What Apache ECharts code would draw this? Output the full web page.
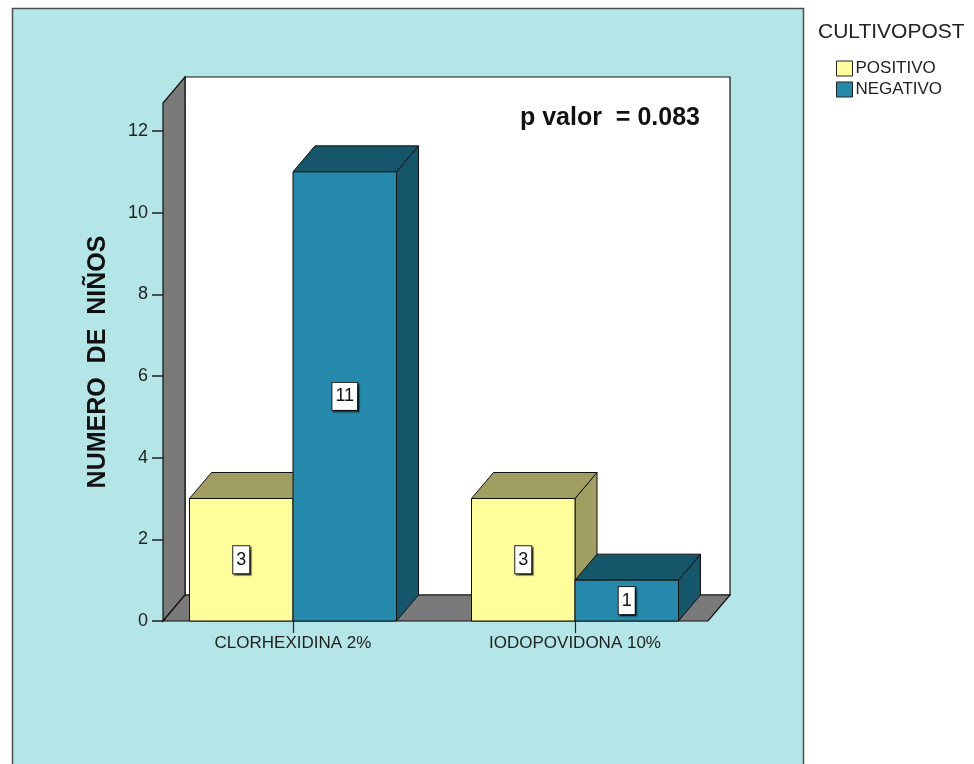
<!DOCTYPE html>
<html>
<head>
<meta charset="utf-8">
<title>CULTIVOPOST</title>
<script src="https://cdn.jsdelivr.net/npm/echarts@6/dist/echarts.min.js"></script>
<style>
  html, body { margin: 0; padding: 0; background: #ffffff; }
  #chart { width: 974px; height: 764px; }
</style>
</head>
<body>
<div id="chart"></div>
<script>
// Data
const categories = ['CLORHEXIDINA 2%', 'IODOPOVIDONA 10%'];
const positivo = [3, 3];
const negativo = [11, 1];
const seriesNames = ['POSITIVO', 'NEGATIVO'];
const legendTitle = 'CULTIVOPOST';
const axisTitle = 'NUMERO  DE  NIÑOS';
const annotation = 'p valor  = 0.083';
const yMin = 0, yMax = 12, yInterval = 2;

// Styling
const FONT = '"Liberation Sans", Arial, Helvetica, sans-serif';
const TEAL = '#b5e6e7';
const WALL_GRAY = '#7a7a7a';
const EDGE = '#111111';
const COLORS = {
  POSITIVO: { front: '#fefe9b', dark: '#a09f61' },
  NEGATIVO: { front: '#2489ab', dark: '#16566a' }
};
const DEPTH = [22, -26];        // receding offset of the 3D box faces
const BAR_FRAC = 0.367;         // bar width as a fraction of the category band
const AXIS_INSET = 11;          // y axis sits this far inside the grid's left edge
const FLOOR_RIGHT_INSET = 8;    // floor ends this far inside the grid's right edge
const WALL_EXTRA = 28;          // walls rise above the top value of the axis

function barRenderer(name, slot) {
  const col = COLORS[name];
  return function (params, api) {
    const cat = api.value(0);
    const val = api.value(1);
    const base = api.coord([cat, 0]);
    const top = api.coord([cat, val]);
    const band = api.size([1, 0])[0];
    const w = band * BAR_FRAC;
    const x0 = slot === 0 ? base[0] - w : base[0];
    const x1 = x0 + w;
    const y0 = base[1];
    const y1 = top[1];
    const dx = DEPTH[0], dy = DEPTH[1];
    const edge = { stroke: EDGE, lineWidth: 1 };
    return {
      type: 'group',
      children: [
        { type: 'polygon',
          shape: { points: [[x1, y1], [x1 + dx, y1 + dy], [x1 + dx, y0 + dy], [x1, y0]] },
          style: Object.assign({ fill: col.dark }, edge) },
        { type: 'polygon',
          shape: { points: [[x0, y1], [x0 + dx, y1 + dy], [x1 + dx, y1 + dy], [x1, y1]] },
          style: Object.assign({ fill: col.dark }, edge) },
        { type: 'rect',
          shape: { x: x0, y: y1, width: w, height: y0 - y1 },
          style: Object.assign({ fill: col.front }, edge) },
        { type: 'text',
          style: {
            text: String(val),
            x: (x0 + x1) / 2, y: (y0 + y1) / 2,
            align: 'center', verticalAlign: 'middle',
            fontFamily: FONT, fontSize: 18, fill: '#111',
            backgroundColor: '#ffffff', borderColor: '#222', borderWidth: 1,
            padding: [5, 3, 4, 3],
            shadowColor: 'rgba(0,0,0,0.55)', shadowOffsetX: 1.5, shadowOffsetY: 1.5, shadowBlur: 1
          } }
      ]
    };
  };
}

function wallRenderer(params, api) {
  const cs = params.coordSys;
  const dx = DEPTH[0], dy = DEPTH[1];
  const fx0 = cs.x + AXIS_INSET;
  const fx1 = cs.x + cs.width - FLOOR_RIGHT_INSET;
  const fy = cs.y + cs.height;
  const ty = cs.y - WALL_EXTRA;
  const edge = { stroke: EDGE, lineWidth: 1.2 };
  return {
    type: 'group',
    children: [
      { type: 'rect',
        shape: { x: fx0 + dx, y: ty + dy, width: fx1 - fx0, height: fy - ty },
        style: Object.assign({ fill: '#ffffff' }, edge) },
      { type: 'polygon',
        shape: { points: [[fx0, fy], [fx0, ty], [fx0 + dx, ty + dy], [fx0 + dx, fy + dy]] },
        style: Object.assign({ fill: WALL_GRAY }, edge) },
      { type: 'polygon',
        shape: { points: [[fx0, fy], [fx1, fy], [fx1 + dx, fy + dy], [fx0 + dx, fy + dy]] },
        style: Object.assign({ fill: WALL_GRAY }, edge) }
    ]
  };
}

const chart = echarts.init(document.getElementById('chart'), null, { renderer: 'canvas' });

const option = {
  animation: false,
  backgroundColor: '#ffffff',
  textStyle: { fontFamily: FONT },
  grid: { left: 152, right: 258, top: 131, bottom: 143, containLabel: false },
  xAxis: {
    type: 'category',
    data: categories,
    axisLine: { show: false },
    axisTick: { show: true, alignWithLabel: true, length: 12, lineStyle: { color: '#222', width: 1.2 } },
    axisLabel: { fontSize: 17, color: '#222', margin: 14, fontFamily: FONT },
    splitLine: { show: false }
  },
  yAxis: {
    type: 'value',
    min: yMin, max: yMax, interval: yInterval,
    offset: -AXIS_INSET,
    axisLine: { show: false },
    axisTick: { show: true, length: 11, lineStyle: { color: '#222', width: 1.5 } },
    axisLabel: { fontSize: 18, color: '#222', margin: 15, fontFamily: FONT },
    splitLine: { show: false }
  },
  legend: {
    data: seriesNames,
    orient: 'vertical',
    left: 831, top: 55,
    itemWidth: 16, itemHeight: 15, itemGap: 4,
    icon: 'rect',
    itemStyle: { borderColor: '#222', borderWidth: 1 },
    textStyle: { fontSize: 17, color: '#222', fontFamily: FONT, padding: [0, 0, 0, -2] },
    selectedMode: false
  },
  graphic: [
    { type: 'rect', z: -10, silent: true,
      shape: { x: 12.5, y: 8.5, width: 791, height: 800 },
      style: { fill: TEAL, stroke: '#4d4d4d', lineWidth: 1.5 } },
    { type: 'text', z: 10, silent: true,
      style: { text: legendTitle, x: 818, y: 32, verticalAlign: 'middle',
               fontFamily: FONT, fontSize: 21, fill: '#222' } },
    { type: 'text', z: 10, silent: true,
      x: 98, y: 362, rotation: Math.PI / 2,
      style: { text: axisTitle, x: 0, y: 0, align: 'center', verticalAlign: 'middle',
               fontFamily: FONT, fontSize: 25, fontWeight: 'bold', fill: '#111' } },
    { type: 'text', z: 10, silent: true,
      style: { text: annotation, x: 520, y: 118, verticalAlign: 'middle',
               fontFamily: FONT, fontSize: 25, fontWeight: 'bold', fill: '#111' } }
  ],
  series: [
    { type: 'custom', name: 'walls', silent: true, clip: false, z: 1,
      renderItem: wallRenderer, data: [[0, 0]] },
    { type: 'custom', name: seriesNames[0], clip: false, z: 2,
      itemStyle: { color: COLORS.POSITIVO.front },
      renderItem: barRenderer(seriesNames[0], 0),
      data: positivo.map((v, i) => [i, v]) },
    { type: 'custom', name: seriesNames[1], clip: false, z: 2,
      itemStyle: { color: COLORS.NEGATIVO.front },
      renderItem: barRenderer(seriesNames[1], 1),
      data: negativo.map((v, i) => [i, v]) }
  ]
};

chart.setOption(option);
</script>
</body>
</html>
